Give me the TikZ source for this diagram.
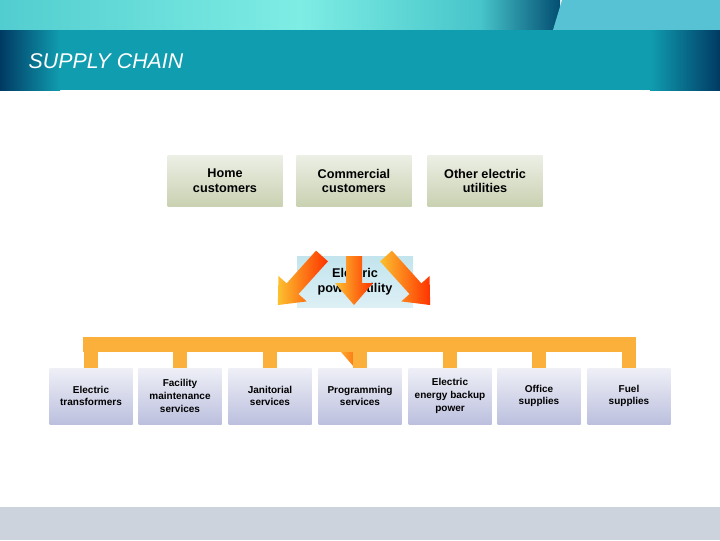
\documentclass[tikz,border=0pt]{standalone}
\usepackage{fontspec}
\setmainfont{Liberation Sans}
\definecolor{teal}{HTML}{109DB0}
\definecolor{navy}{HTML}{003A63}
\definecolor{aqua}{HTML}{7EEDE4}
\definecolor{sky}{HTML}{57C2D4}
\definecolor{sage}{HTML}{C9D1B2}
\definecolor{lav}{HTML}{BCC0DE}
\definecolor{ice}{HTML}{A9D9E6}
\definecolor{barorange}{HTML}{FBB03B}
\definecolor{footgray}{HTML}{CDD3DC}
\newcommand{\fatarrow}[4]{% tail x, tail y, angle, length
  \begin{scope}[shift={(#1,#2)}, rotate=#3]
    \shade[left color=barorange!80!yellow, right color=red!60!orange]
      (0,-8) -- (#4-22,-8) -- (#4-22,-19) -- (#4,0) -- (#4-22,19) -- (#4-22,8) -- (0,8) -- cycle;
  \end{scope}}
\begin{document}
\begin{tikzpicture}[x=0.75pt, y=-0.75pt,
    topbox/.style={minimum width=86.25pt, minimum height=38.25pt, align=center,
        font=\bfseries\fontsize{9.5}{11}\selectfont, top color=sage!35, bottom color=sage},
    midbox/.style={minimum width=87pt, minimum height=38.25pt, align=center,
        font=\bfseries\fontsize{9.5}{11}\selectfont, top color=ice!70, bottom color=ice!40!white},
    lowbox/.style={minimum width=62.25pt, minimum height=42pt, align=center,
        font=\bfseries\fontsize{7.5}{9.5}\selectfont, top color=lav!25, bottom color=lav},
    stub/.style={fill=barorange, minimum width=10.5pt, minimum height=12pt, inner sep=0pt},
]
\useasboundingbox (0,0) rectangle (720,540);
% --- Header and footer bands ---
\shade[left color=aqua!60!teal, right color=aqua] (0,0) rectangle (300,30);
\shade[left color=aqua, right color=aqua!50!teal] (300,0) rectangle (480,30);
\shade[left color=aqua!50!teal, right color=navy!80!teal] (480,0) rectangle (560,30);
\fill[sky] (562,0) -- (720,0) -- (720,30) -- (553,30) -- cycle;
\shade[left color=navy, right color=teal] (0,30) rectangle (60,90);
\fill[teal] (60,30) rectangle (650,90);
\shade[left color=teal, right color=navy] (650,30) rectangle (720,90);
\node[anchor=west, text=white, font=\itshape\fontsize{16}{18}\selectfont] (title) at (24,61) {SUPPLY CHAIN};
\fill[footgray] (0,507) rectangle (720,540);

% --- Customers ---
\node[topbox] (home) at (225,181) {Home\\customers};
\node[topbox] (comm) at (354,181) {Commercial\\customers};
\node[topbox] (other) at (485,181) {Other electric\\utilities};

% --- Utility ---
\node[midbox] (util) at (355,282) {Electric\\power utility};

% --- Arrows to customers ---
\fatarrow{322}{256}{-132}{66}
\fatarrow{354}{256}{-90}{49}
\fatarrow{386}{256}{-48}{66}
\fatarrow{354}{337}{-90}{30}

% --- Supplier bar ---
\node[fill=barorange, minimum width=415pt, minimum height=11.25pt, inner sep=0pt] (bar) at (359.5,344.5) {};

% --- Suppliers ---
\foreach \x/\name/\txt in {91/s1/Electric\\transformers, 180/s2/Facility\\maintenance\\services,
    270/s3/Janitorial\\services, 360/s4/Programming\\services,
    450/s5/Electric\\energy backup\\power, 539/s6/Office\\supplies, 629/s7/Fuel\\supplies}{
  \node[stub] (\name t) at (\x,360) {};
  \node[lowbox] (\name) at (\x,396) {\txt};
}
\end{tikzpicture}
\end{document}
